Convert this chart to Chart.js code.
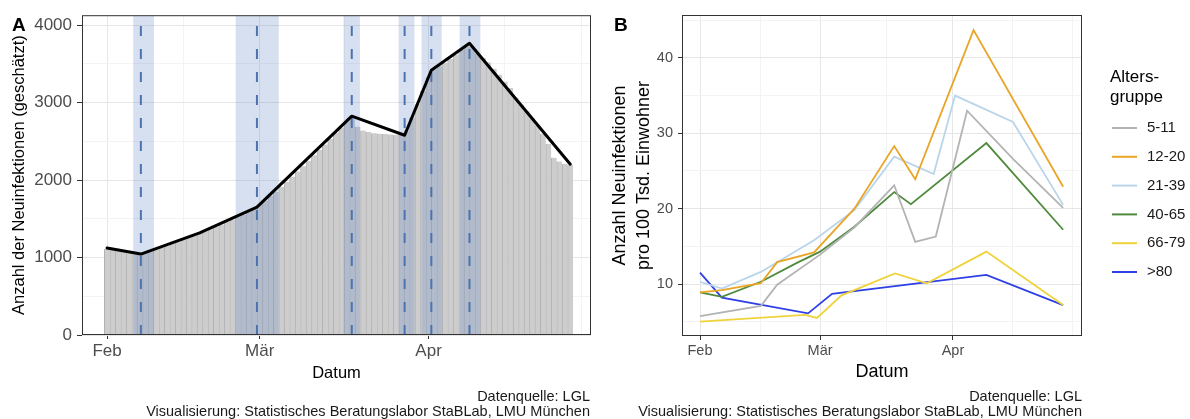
<!DOCTYPE html>
<html>
<head>
<meta charset="utf-8">
<script src="https://cdn.jsdelivr.net/npm/chart.js@4.4.1/dist/chart.umd.min.js"></script>
<style>
  body { margin: 0; background: #fff; width: 1190px; height: 419px; overflow: hidden; position: relative;
         font-family: 'Liberation Sans', Arial, sans-serif; }
  #wrapA { position: absolute; left: 0; top: 0; width: 600px; height: 390px; }
  #wrapB { position: absolute; left: 600px; top: 0; width: 590px; height: 390px; }
  .tag { position: absolute; font-weight: bold; font-size: 19px; line-height: 1; color: #000; }
  .src { position: absolute; font-size: 14.5px; line-height: 15px; text-align: right; color: #1a1a1a; white-space: nowrap; }
</style>
</head>
<body>
<div id="wrapA"><canvas id="chartA" width="600" height="390"></canvas></div>
<div id="wrapB"><canvas id="chartB" width="590" height="390"></canvas></div>
<div class="tag" style="left:12px; top:15px;">A</div>
<div class="tag" style="left:614px; top:15px;">B</div>
<div class="src" style="left:0; top:389px; width:590px;">Datenquelle: LGL<br>Visualisierung: Statistisches Beratungslabor StaBLab, LMU München</div>
<div class="src" style="left:600px; top:389px; width:482px;">Datenquelle: LGL<br>Visualisierung: Statistisches Beratungslabor StaBLab, LMU München</div>

<script>
const FONT = "'Liberation Sans', Arial, sans-serif";

// x axis: days counted from 1 Feb
const monthDays = [0, 28, 59];
const monthLabels = ['Feb', 'Mär', 'Apr'];
const minorDays = [14, 43.5, 73, 87];

// Panel A: daily estimated new infections, 1 Feb .. 27 Apr
const dailyCases = [
  1110, 1102, 1096, 1088, 1080, 1066, 1048, 1060, 1082, 1105,
  1128, 1150, 1178, 1200, 1228, 1255, 1282, 1310, 1338, 1366,
  1398, 1428, 1458, 1490, 1522, 1555, 1590, 1628, 1680, 1735,
  1795, 1850, 1915, 1980, 2045, 2110, 2180, 2250, 2320, 2390,
  2460, 2535, 2610, 2680, 2760, 2820, 2690, 2640, 2620, 2605,
  2600, 2595, 2590, 2585, 2590, 2640, 2810, 2980, 3150, 3330,
  3430, 3470, 3515, 3565, 3620, 3680, 3740, 3720, 3640, 3580,
  3520, 3440, 3360, 3270, 3190, 3060, 2975, 2890, 2800, 2710,
  2600, 2470, 2290, 2240, 2210, 2195
];
const trendDays = [0, 6.2, 17, 27.5, 44.9, 54.6, 59.5, 66.5, 85];
const trendValues = [1123, 1045, 1318, 1652, 2826, 2580, 3419, 3768, 2206];
const breakDays = [6.2, 27.5, 44.9, 54.6, 59.5, 66.5];
const bandFrom = [4.8, 23.6, 43.4, 53.5, 57.7, 64.7];
const bandTo = [8.6, 31.5, 46.4, 56.4, 61.4, 68.5];
const yTicksA = [0, 500, 1000, 1500, 2000, 2500, 3000, 3500, 4000];

// Panel B: new infections per 100k inhabitants by age group
const ageGroups = ['5-11', '12-20', '21-39', '40-65', '66-79', '>80'];
const groupColors = ['#b3b3b3', '#e9a526', '#b9d5ea', '#4f8a3c', '#efd33b', '#2f3fe6'];
const days5_11 = [0, 14.2, 18, 28, 36, 45.3, 50.2, 55, 62.3, 73, 84.7];
const rate5_11 = [5.75, 7.1, 9.9, 13.9, 17.5, 23.1, 15.6, 16.3, 33.0, 26.6, 20.1];
const days12_20 = [0, 5.1, 14.2, 18, 26.6, 36, 45.3, 50.2, 63.8, 84.7];
const rate12_20 = [8.9, 9.2, 10.1, 12.9, 14.2, 20.0, 28.3, 23.9, 43.7, 22.9];
const days21_39 = [0, 5.1, 14.2, 18, 26.6, 36, 45.3, 54.5, 59.5, 73, 84.7];
const rate21_39 = [10.3, 9.4, 11.6, 12.9, 15.8, 19.8, 26.9, 24.6, 35.0, 31.5, 20.5];
const days40_65 = [0, 5.1, 14.2, 22.6, 28, 36, 45.3, 49.2, 66.8, 84.7];
const rate40_65 = [8.9, 8.3, 10.3, 12.8, 14.3, 17.6, 22.2, 20.6, 28.7, 17.2];
const days66_79 = [0, 24.5, 27.3, 33, 45.5, 52.9, 66.8, 84.7];
const rate66_79 = [5.0, 5.9, 5.5, 8.5, 11.4, 10.1, 14.3, 7.2];
const days80 = [0, 5.1, 25.2, 30.8, 66.8, 84.7];
const rate80 = [11.5, 8.2, 6.1, 8.7, 11.2, 7.2];
const yTicksB = [5, 10, 15, 20, 25, 30, 35, 40, 45];
const yMajorB = [10, 20, 30, 40];

const pairs = (xs, ys) => xs.map((x, i) => ({ x: x, y: ys[i] }));
const isMonth = v => monthDays.includes(v);

const frame = {
  id: 'frame',
  afterDraw(chart) {
    const a = chart.chartArea, ctx = chart.ctx;
    ctx.save();
    ctx.strokeStyle = '#333';
    ctx.lineWidth = 1;
    ctx.strokeRect(a.left + 0.5, a.top + 0.5, a.right - a.left - 1, a.bottom - a.top - 1);
    ctx.restore();
  }
};

function xAxis(min, max, tickSize, titleSize, height) {
  return {
    type: 'linear', min: min, max: max, offset: false,
    afterBuildTicks: s => { s.ticks = monthDays.concat(minorDays).sort((a, b) => a - b).map(v => ({ value: v })); },
    afterFit: s => { s.height = height; },
    border: { display: false },
    grid: {
      offset: false,
      color: c => isMonth(c.tick.value) ? '#e6e6e6' : '#f3f3f3',
      tickColor: c => isMonth(c.tick.value) ? '#333' : 'rgba(0,0,0,0)',
      tickLength: 4
    },
    ticks: {
      padding: 2, maxRotation: 0, autoSkip: false, color: '#4d4d4d',
      font: { family: FONT, size: tickSize },
      callback: v => isMonth(v) ? monthLabels[monthDays.indexOf(v)] : ''
    },
    title: { display: true, text: 'Datum', color: '#000', font: { family: FONT, size: titleSize }, padding: { top: 0, bottom: 7 } }
  };
}

// ---------- Panel A ----------
const bandsA = {
  id: 'bandsA',
  afterDatasetDraw(chart, args) {
    if (args.index !== 1) return;
    const a = chart.chartArea, ctx = chart.ctx, x = chart.scales.x;
    ctx.save();
    ctx.beginPath();
    ctx.rect(a.left, a.top, a.right - a.left, a.bottom - a.top);
    ctx.clip();
    ctx.fillStyle = 'rgba(96,137,196,0.26)';
    bandFrom.forEach((f, i) => {
      const x0 = x.getPixelForValue(f), x1 = x.getPixelForValue(bandTo[i]);
      ctx.fillRect(x0, a.top, x1 - x0, a.bottom - a.top);
    });
    ctx.strokeStyle = '#4c72b0';
    ctx.lineWidth = 2;
    ctx.setLineDash([10, 13]);
    breakDays.forEach(d => {
      const px = x.getPixelForValue(d);
      ctx.beginPath();
      ctx.moveTo(px, a.bottom);
      ctx.lineTo(px, a.top);
      ctx.stroke();
    });
    ctx.restore();
  }
};

new Chart(document.getElementById('chartA'), {
  type: 'bar',
  data: {
    datasets: [
      {
        type: 'line',
        data: pairs(trendDays, trendValues),
        borderColor: '#000', borderWidth: 3, pointRadius: 0, tension: 0,
        borderJoinStyle: 'round', borderCapStyle: 'round'
      },
      {
        type: 'bar',
        data: dailyCases.map((v, i) => ({ x: i, y: v })),
        backgroundColor: '#cdcdcd',
        borderColor: '#b2b2b2',
        borderWidth: { left: 1, right: 0, top: 0, bottom: 0 },
        barPercentage: 1, categoryPercentage: 1
      }
    ]
  },
  options: {
    responsive: false, animation: false,
    layout: { padding: { top: 15, right: 9, left: 0, bottom: 0 } },
    plugins: { legend: { display: false }, tooltip: { enabled: false } },
    scales: {
      x: xAxis(-4.6, 88.8, 17, 16.5, 55),
      y: {
        type: 'linear', min: 0, max: 4130,
        afterBuildTicks: s => { s.ticks = yTicksA.map(v => ({ value: v })); },
        afterFit: s => { s.width = 82; },
        border: { display: false },
        grid: {
          color: c => c.tick.value % 1000 === 0 ? '#e6e6e6' : '#f3f3f3',
          tickColor: c => c.tick.value % 1000 === 0 ? '#333' : 'rgba(0,0,0,0)',
          tickLength: 5
        },
        ticks: {
          padding: 5, color: '#4d4d4d', font: { family: FONT, size: 17 },
          callback: v => v % 1000 === 0 ? String(v) : ''
        },
        title: {
          display: true, text: 'Anzahl der Neuinfektionen (geschätzt)', color: '#000',
          font: { family: FONT, size: 16.5 }, padding: { top: 10, bottom: 0 }
        }
      }
    }
  },
  plugins: [bandsA, frame]
});

// ---------- Panel B ----------
const legendB = {
  id: 'legendB',
  afterDraw(chart) {
    const ctx = chart.ctx;
    ctx.save();
    ctx.textBaseline = 'middle';
    ctx.textAlign = 'left';
    ctx.fillStyle = '#000';
    ctx.font = '17px ' + FONT;
    ctx.fillText('Alters-', 510, 77);
    ctx.fillText('gruppe', 510, 97);
    ctx.font = '15px ' + FONT;
    ageGroups.forEach((g, i) => {
      const y = 128 + i * 28.8;
      ctx.strokeStyle = groupColors[i];
      ctx.lineWidth = 2;
      ctx.beginPath();
      ctx.moveTo(512, y);
      ctx.lineTo(537, y);
      ctx.stroke();
      ctx.fillStyle = '#1a1a1a';
      ctx.fillText(g, 547, y);
    });
    ctx.restore();
  }
};

const seriesB = [
  [days5_11, rate5_11], [days12_20, rate12_20], [days21_39, rate21_39],
  [days40_65, rate40_65], [days66_79, rate66_79], [days80, rate80]
];

new Chart(document.getElementById('chartB'), {
  type: 'line',
  data: {
    datasets: seriesB.map((s, i) => ({
      label: ageGroups[i],
      data: pairs(s[0], s[1]),
      borderColor: groupColors[i], borderWidth: 1.8, pointRadius: 0, tension: 0
    }))
  },
  options: {
    responsive: false, animation: false,
    layout: { padding: { top: 15, right: 108, left: 0, bottom: 0 } },
    plugins: { legend: { display: false }, tooltip: { enabled: false } },
    scales: {
      x: xAxis(-4.2, 89.1, 14.5, 18, 54),
      y: {
        type: 'linear', min: 3.1, max: 45.7,
        afterBuildTicks: s => { s.ticks = yTicksB.map(v => ({ value: v })); },
        afterFit: s => { s.width = 82; },
        border: { display: false },
        grid: {
          color: c => yMajorB.includes(c.tick.value) ? '#e6e6e6' : '#f3f3f3',
          tickColor: c => yMajorB.includes(c.tick.value) ? '#333' : 'rgba(0,0,0,0)',
          tickLength: 4
        },
        ticks: {
          padding: 5, color: '#4d4d4d', font: { family: FONT, size: 14.5 },
          callback: v => yMajorB.includes(v) ? String(v) : ''
        },
        title: {
          display: true, text: ['Anzahl Neuinfektionen', 'pro 100 Tsd. Einwohner'], color: '#000',
          font: { family: FONT, size: 18, lineHeight: 1.35 }, padding: { top: 8, bottom: 0 }
        }
      }
    }
  },
  plugins: [frame, legendB]
});
</script>
</body>
</html>
